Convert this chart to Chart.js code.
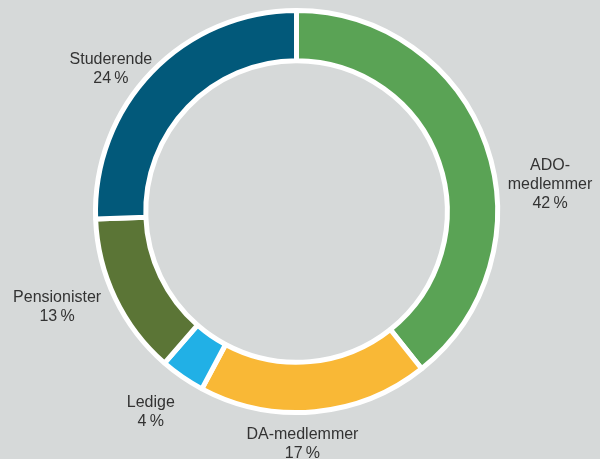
<!DOCTYPE html>
<html lang="da">
<head>
<meta charset="utf-8">
<title>Medlemmer</title>
<script src="https://cdn.jsdelivr.net/npm/chart.js@4/dist/chart.umd.min.js"></script>
<style>
  html, body { margin: 0; padding: 0; background: #d6d9d9; }
  #graficoMedlemmer { display: block; }
</style>
</head>
<body>
<canvas id="graficoMedlemmer" width="600" height="459"></canvas>
<script>
// dados do gráfico
const categorias = ['ADO-medlemmer', 'DA-medlemmer', 'Ledige', 'Pensionister', 'Studerende'];
const linhasRotulo = [['ADO-', 'medlemmer'], ['DA-medlemmer'], ['Ledige'], ['Pensionister'], ['Studerende']];
// percentuais impressos nos rótulos
const percentuais = [42, 17, 4, 13, 24];
// tamanho das fatias como estão desenhadas na figura (medido pelos ângulos)
const fatiasDesenhadas = [39.3, 18.5, 3.6, 13.0, 25.6];
const cores = ['#5aa355', '#f9b836', '#21b0e6', '#5b7536', '#02597a'];

// ajuste manual de cada rótulo (px) a partir do ponto radial fora do anel
const ajustesRotulo = [[26, 38], [-16, -13], [-9, -3], [-22, -13], [-12, 20]];

// plugin que escreve os rótulos fora do anel
const pluginRotulos = {
    id: 'rotulos',
    afterDatasetsDraw(chart) {
        const ctx = chart.ctx;
        const arcos = chart.getDatasetMeta(0).data;
        ctx.save();
        ctx.font = '16px "Liberation Sans", Arial, sans-serif';
        ctx.fillStyle = '#333333';
        ctx.textAlign = 'center';
        ctx.textBaseline = 'alphabetic';
        arcos.forEach((arco, i) => {
            const {x, y, startAngle, endAngle, outerRadius} =
                arco.getProps(['x', 'y', 'startAngle', 'endAngle', 'outerRadius'], true);
            const meio = (startAngle + endAngle) / 2;
            const r = outerRadius + 40;
            const px = x + Math.cos(meio) * r + ajustesRotulo[i][0];
            const py = y + Math.sin(meio) * r + ajustesRotulo[i][1];
            const linhas = [...linhasRotulo[i], percentuais[i] + '\u2009%'];
            linhas.forEach((linha, j) => ctx.fillText(linha, px, py + j * 19));
        });
        ctx.restore();
    }
};

const criarGrafico = () => {
    const ctx = document.getElementById('graficoMedlemmer').getContext('2d');
    new Chart(ctx, {
        type: 'doughnut',
        data: {
            labels: categorias,
            datasets: [{
                data: fatiasDesenhadas,
                backgroundColor: cores,
                borderColor: '#ffffff',
                borderWidth: 5,
                hoverBorderWidth: 5,
                hoverOffset: 0
            }]
        },
        options: {
            responsive: false,
            animation: false,
            cutout: '75%',
            layout: { padding: { top: 8, bottom: 44, left: 0, right: 7 } },
            plugins: {
                legend: { display: false },
                tooltip: { enabled: false }
            }
        },
        plugins: [pluginRotulos]
    });
};

criarGrafico();
</script>
</body>
</html>
